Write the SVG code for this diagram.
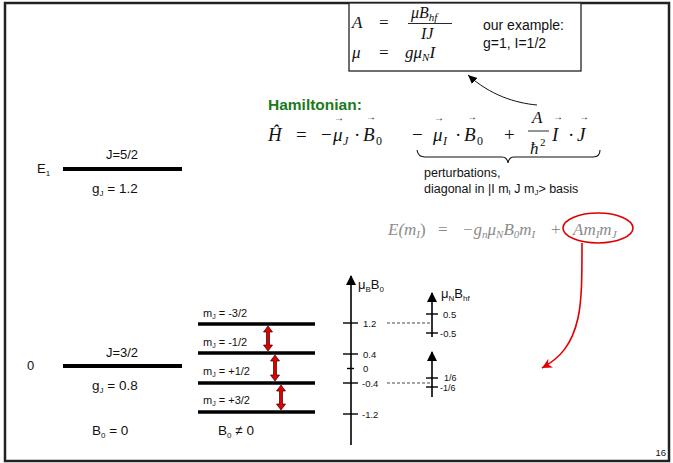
<svg xmlns="http://www.w3.org/2000/svg" width="673" height="463" viewBox="0 0 673 463">
<style>
.s{font-family:"Liberation Sans",Arial,sans-serif;fill:#111}
.m{font-family:"Liberation Serif","Times New Roman",serif;fill:#111}
.i{font-style:italic}
.lv{stroke:#000;stroke-width:4}
.sl{stroke:#000;stroke-width:3.5}
.ax{stroke:#000;stroke-width:1.6;fill:none}
.tk{stroke:#000;stroke-width:1.4}
.dash{stroke:#333;stroke-width:0.9;stroke-dasharray:3 2}
.red{fill:#e00000;stroke:#300;stroke-width:0.7}
.g{fill:#8c8c8c}
</style>
<defs>
<marker id="ahb" markerUnits="userSpaceOnUse" markerWidth="10" markerHeight="10" refX="9" refY="5" orient="auto"><path d="M0,1 L9,5 L0,9 Z" fill="#000"/></marker>
<marker id="ahr" markerUnits="userSpaceOnUse" markerWidth="12" markerHeight="12" refX="10" refY="6" orient="auto"><path d="M0,1 L10,6 L0,11 L3,6 Z" fill="#e00000"/></marker>
<marker id="axh" markerUnits="userSpaceOnUse" markerWidth="10" markerHeight="12" refX="9" refY="5" orient="auto"><path d="M0,0 L10,5 L0,10 Z" fill="#000"/></marker>
</defs>
<rect x="5" y="3" width="664" height="458" fill="#fff" stroke="#222" stroke-width="2.5"/>

<g id="formula-box">
<rect x="349" y="3" width="232" height="68" fill="#fff" stroke="#222" stroke-width="1.3"/>
<text class="m i" x="352" y="28" font-size="17">A</text>
<text class="m" x="379" y="28" font-size="17">=</text>
<text class="m i" x="411" y="18" font-size="16">μB<tspan font-size="11" dy="3">hf</tspan></text>
<line x1="408" y1="23.5" x2="452" y2="23.5" stroke="#111" stroke-width="0.9"/>
<text class="m i" x="421" y="39" font-size="16">IJ</text>
<text class="m i" x="352" y="58" font-size="17">μ</text>
<text class="m" x="379" y="58" font-size="17">=</text>
<text class="m i" x="405" y="58" font-size="17">gμ<tspan font-size="11" dy="3">N</tspan><tspan dy="-3">I</tspan></text>
<text class="s" x="483" y="30" font-size="14">our example:</text>
<text class="s" x="483" y="48" font-size="14">g=1, I=1/2</text>
</g>

<g id="hamiltonian">
<text class="s" x="268" y="110" font-size="15.5" font-weight="bold" style="fill:#1b7a1b">Hamiltonian:</text>
<text class="m i" x="268" y="141" font-size="19">Ĥ</text>
<text class="m" x="296" y="141" font-size="19">=</text>
<text class="m" x="321" y="141" font-size="19">−</text>
<text class="m i" x="333" y="141" font-size="19">μ</text>
<text class="m" x="334" y="121" font-size="10">→</text>
<text class="m i" x="343" y="145" font-size="12">J</text>
<text class="m" x="354" y="141" font-size="19">·</text>
<text class="m i" x="363" y="141" font-size="19">B</text>
<text class="m" x="366" y="120" font-size="10">→</text>
<text class="m" x="376" y="145" font-size="12">0</text>
<text class="m" x="412" y="141" font-size="19">−</text>
<text class="m i" x="433" y="141" font-size="19">μ</text>
<text class="m" x="434" y="121" font-size="10">→</text>
<text class="m i" x="443" y="145" font-size="12">I</text>
<text class="m" x="455" y="141" font-size="19">·</text>
<text class="m i" x="464" y="141" font-size="19">B</text>
<text class="m" x="467" y="120" font-size="10">→</text>
<text class="m" x="477" y="145" font-size="12">0</text>
<text class="m" x="504" y="141" font-size="19">+</text>
<text class="m i" x="532" y="123" font-size="17">A</text>
<line x1="528" y1="131" x2="549" y2="131" stroke="#111" stroke-width="0.9"/>
<text class="m i" x="530" y="154" font-size="17">ħ</text>
<text class="m" x="540" y="146" font-size="11">2</text>
<text class="m i" x="552" y="141" font-size="19">I</text>
<text class="m" x="553" y="120" font-size="10">→</text>
<text class="m" x="568" y="141" font-size="19">·</text>
<text class="m i" x="577" y="141" font-size="19">J</text>
<text class="m" x="579" y="120" font-size="10">→</text>
<path d="M417,150 Q418,157 425,157 L502,157 Q507,157 508,163 Q509,157 514,157 L593,157 Q600,157 600,150" fill="none" stroke="#111" stroke-width="1.1"/>
<text class="s" x="424" y="177" font-size="12.5">perturbations,</text>
<text class="s" x="424" y="193" font-size="12.5">diagonal in |I m<tspan font-size="8" dy="2">I</tspan><tspan dy="-2"> J m</tspan><tspan font-size="8" dy="2">J</tspan><tspan dy="-2">&gt; basis</tspan></text>
</g>

<g id="energy-formula">
<text class="m i g" x="388" y="235" font-size="17">E(m<tspan font-size="11" dy="3">I</tspan><tspan dy="-3" font-style="normal">)</tspan></text>
<text class="m g" x="438" y="235" font-size="17">=</text>
<text class="m i g" x="462" y="235" font-size="17">−g<tspan font-size="11" dy="3">n</tspan><tspan dy="-3">μ</tspan><tspan font-size="11" dy="3">N</tspan><tspan dy="-3">B</tspan><tspan font-size="11" dy="3">0</tspan><tspan dy="-3">m</tspan><tspan font-size="11" dy="3">I</tspan></text>
<text class="m g" x="551" y="235" font-size="17">+</text>
<text class="m i g" x="573" y="235" font-size="17">Am<tspan font-size="11" dy="3">I</tspan><tspan dy="-3">m</tspan><tspan font-size="11" dy="3">J</tspan></text>
<ellipse cx="598" cy="228" rx="35" ry="15" fill="none" stroke="#e00000" stroke-width="1.6"/>
</g>

<g id="level-E1">
<text class="s" x="37" y="173" font-size="13">E<tspan font-size="8" dy="3">1</tspan></text>
<line class="lv" x1="63" y1="169" x2="182" y2="169"/>
<text class="s" x="122" y="159" font-size="13" text-anchor="middle">J=5/2</text>
<text class="s" x="92" y="193" font-size="13.5">g<tspan font-size="8" dy="3">J</tspan><tspan dy="-3"> = 1.2</tspan></text>
</g>

<g id="level-0">
<text class="s" x="27" y="370" font-size="13">0</text>
<line class="lv" x1="63" y1="366" x2="182" y2="366"/>
<text class="s" x="122" y="357" font-size="13" text-anchor="middle">J=3/2</text>
<text class="s" x="92" y="390" font-size="13.5">g<tspan font-size="8" dy="3">J</tspan><tspan dy="-3"> = 0.8</tspan></text>
<text class="s" x="92" y="435" font-size="13.5">B<tspan font-size="8" dy="3">0</tspan><tspan dy="-3"> = 0</tspan></text>
</g>

<g id="sublevels">
<line class="sl" x1="198" y1="324" x2="315" y2="324"/>
<line class="sl" x1="198" y1="353" x2="315" y2="353"/>
<line class="sl" x1="198" y1="383" x2="315" y2="383"/>
<line class="sl" x1="198" y1="412" x2="315" y2="412"/>
<text class="s" x="203" y="317" font-size="11">m<tspan font-size="7" dy="2">J</tspan><tspan dy="-2"> = -3/2</tspan></text>
<text class="s" x="203" y="346" font-size="11">m<tspan font-size="7" dy="2">J</tspan><tspan dy="-2"> = -1/2</tspan></text>
<text class="s" x="203" y="375" font-size="11">m<tspan font-size="7" dy="2">J</tspan><tspan dy="-2"> = +1/2</tspan></text>
<text class="s" x="203" y="404" font-size="11">m<tspan font-size="7" dy="2">J</tspan><tspan dy="-2"> = +3/2</tspan></text>
<text class="s" x="218" y="435" font-size="13.5">B<tspan font-size="8" dy="3">0</tspan><tspan dy="-3"> ≠ 0</tspan></text>
</g>

<g id="transitions">
<polygon class="red" points="268,326 272.5,332 269.5,332 269.5,345 272.5,345 268,351 263.5,345 266.5,345 266.5,332 263.5,332"/>
<polygon class="red" points="275,355 279.5,361 276.5,361 276.5,375 279.5,375 275,381 270.5,375 273.5,375 273.5,361 270.5,361"/>
<polygon class="red" points="281,385 285.5,391 282.5,391 282.5,404 285.5,404 281,410 276.5,404 279.5,404 279.5,391 276.5,391"/>
</g>

<g id="axis-electron">
<line class="ax" x1="351" y1="445" x2="351" y2="276" marker-end="url(#axh)"/>
<text class="s" x="358" y="289" font-size="13">μ<tspan font-size="8" dy="3">B</tspan><tspan dy="-3">B</tspan><tspan font-size="8" dy="3">0</tspan></text>
<line class="tk" x1="343" y1="323" x2="358" y2="323"/>
<line class="tk" x1="343" y1="354" x2="358" y2="354"/>
<line class="tk" x1="347" y1="368.5" x2="354" y2="368.5"/>
<line class="tk" x1="343" y1="383" x2="358" y2="383"/>
<line class="tk" x1="343" y1="414" x2="358" y2="414"/>
<text class="s" x="363" y="327" font-size="9.5">1.2</text>
<text class="s" x="363" y="358" font-size="9.5">0.4</text>
<text class="s" x="363" y="372" font-size="9.5">0</text>
<text class="s" x="362" y="387" font-size="9.5">-0.4</text>
<text class="s" x="362" y="418" font-size="9.5">-1.2</text>
</g>

<g id="axis-nuclear">
<line class="ax" x1="432" y1="337" x2="432" y2="293" marker-end="url(#axh)"/>
<line class="ax" x1="432" y1="397" x2="432" y2="352" marker-end="url(#axh)"/>
<text class="s" x="441" y="298" font-size="13">μ<tspan font-size="8" dy="3">N</tspan><tspan dy="-3">B</tspan><tspan font-size="8" dy="3">hf</tspan></text>
<line class="tk" x1="426" y1="314" x2="438" y2="314"/>
<line class="tk" x1="426" y1="333" x2="438" y2="333"/>
<line class="tk" x1="426" y1="378" x2="438" y2="378"/>
<line class="tk" x1="426" y1="387" x2="438" y2="387"/>
<text class="s" x="443" y="318" font-size="9.5">0.5</text>
<text class="s" x="440" y="337" font-size="9.5">-0.5</text>
<text class="s" x="444" y="381" font-size="9">1/6</text>
<text class="s" x="440" y="391" font-size="9">-1/6</text>
</g>

<g id="connectors">
<line class="dash" x1="387" y1="323" x2="431" y2="323"/>
<line class="dash" x1="387" y1="383" x2="431" y2="383"/>
<path d="M537,105 C515,103 490,95 468,75" fill="none" stroke="#111" stroke-width="1" marker-end="url(#ahb)"/>
<path d="M582,243 C582,275 582,300 578,318 C572,345 560,358 542,368" fill="none" stroke="#e00000" stroke-width="1.6" marker-end="url(#ahr)"/>
</g>

<text class="s" x="666" y="456" font-size="9.5" text-anchor="end">16</text>
</svg>
